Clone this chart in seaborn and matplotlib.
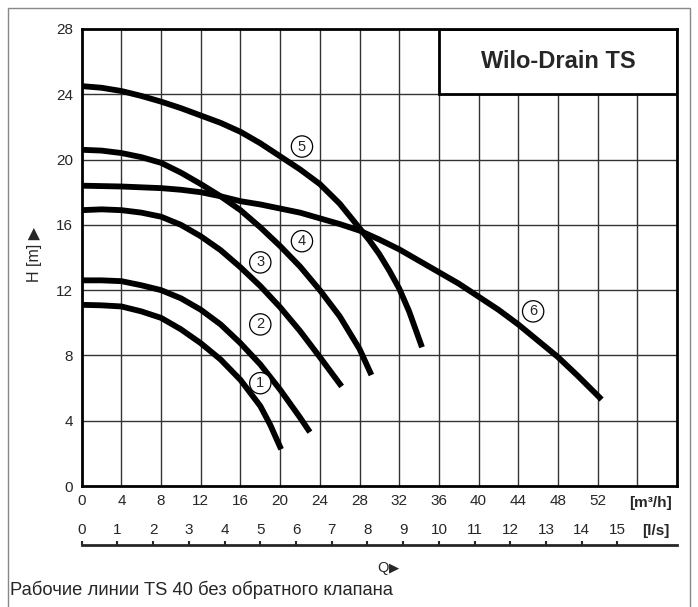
import pandas as pd
import seaborn as sns
import matplotlib.pyplot as plt
from matplotlib.patches import Rectangle

# pump curves, Q in m3/h, H in m
q1 = [0, 2, 4, 6, 8, 10, 12, 14, 16, 18, 19, 20.1]
h1 = [11.1, 11.07, 11.0, 10.7, 10.3, 9.6, 8.75, 7.75, 6.5, 4.9, 3.75, 2.25]
q2 = [0, 2, 4, 6, 8, 10, 12, 14, 16, 18, 20, 22, 23.0]
h2 = [12.6, 12.6, 12.55, 12.3, 12.0, 11.5, 10.8, 9.9, 8.75, 7.45, 5.9, 4.2, 3.3]
q3 = [0, 2, 4, 6, 8, 10, 12, 14, 16, 18, 20, 22, 24, 26.2]
h3 = [16.9, 16.95, 16.9, 16.75, 16.5, 16.0, 15.3, 14.45, 13.4, 12.25, 10.95, 9.5, 7.9, 6.1]
q4 = [0, 2, 4, 6, 8, 10, 12, 14, 16, 18, 20, 22, 24, 26, 28, 29.2]
h4 = [20.6, 20.55, 20.4, 20.15, 19.8, 19.2, 18.5, 17.75, 16.9, 15.85, 14.7, 13.45, 12.0, 10.4, 8.4, 6.8]
q5 = [0, 2, 4, 6, 8, 10, 12, 14, 16, 18, 20, 22, 24, 26, 28, 29, 30, 31, 32, 33, 34.3]
h5 = [24.5, 24.4, 24.2, 23.9, 23.55, 23.15, 22.7, 22.25, 21.7, 21.0, 20.2, 19.4, 18.5, 17.3,
      15.8, 15.05, 14.2, 13.2, 12.1, 10.7, 8.5]
q6 = [0, 4, 8, 10, 12, 14, 16, 18, 20, 22, 24, 26, 28, 30, 32, 34, 36, 38, 40, 42, 44, 46,
      48, 50, 52.4]
h6 = [18.4, 18.35, 18.25, 18.15, 18.0, 17.75, 17.45, 17.25, 17.0, 16.75, 16.4, 16.05, 15.65,
      15.1, 14.5, 13.8, 13.1, 12.4, 11.6, 10.8, 9.9, 8.9, 7.9, 6.75, 5.3]

curve_names = ['1', '2', '3', '4', '5', '6']
label_q = [18.0, 18.0, 18.0, 22.2, 22.2, 45.5]
label_h = [6.3, 9.9, 13.7, 15.0, 20.8, 10.7]

x_ticks = [0, 4, 8, 12, 16, 20, 24, 28, 32, 36, 40, 44, 48, 52]
y_ticks = [0, 4, 8, 12, 16, 20, 24, 28]
ls_ticks = list(range(16))

frames = []
for name, q, h in zip(curve_names, [q1, q2, q3, q4, q5, q6], [h1, h2, h3, h4, h5, h6]):
    frames.append(pd.DataFrame({'Q': q, 'H': h, 'curve': name}))
data = pd.concat(frames, ignore_index=True)

sns.set_style('white')
plt.rcParams['font.family'] = ['Liberation Sans', 'DejaVu Sans']

fig = plt.figure(figsize=(6.98, 6.07), dpi=100)
W, Hh = 698, 607
left, right, top, bottom = 81.7, 677, 29, 486
ax = fig.add_axes([left / W, 1 - bottom / Hh, (right - left) / W, (bottom - top) / Hh])

# outer frame
fig.patches.append(Rectangle((8 / W, -0.02), (690 - 8) / W, 1.02 - 8 / Hh,
                             transform=fig.transFigure, fill=False,
                             edgecolor='#888888', linewidth=1))

ax.set_xlim(0, 60)
ax.set_ylim(0, 28)
for xv in range(4, 60, 4):
    ax.axvline(xv, color='#333333', linewidth=1, zorder=1)
for yv in range(4, 28, 4):
    ax.axhline(yv, color='#333333', linewidth=1, zorder=1)

sns.lineplot(data=data, x='Q', y='H', units='curve', estimator=None, sort=False,
             color='black', linewidth=4.2, ax=ax, zorder=3)
for line in ax.get_lines():
    line.set_solid_capstyle('butt')
    line.set_solid_joinstyle('round')

for name, xq, yh in zip(curve_names, label_q, label_h):
    ax.text(xq, yh, name, ha='center', va='center', fontsize=10.5, zorder=5,
            bbox=dict(boxstyle='circle,pad=0.25', fc='white', ec='black', lw=0.9))

# title box
ax.add_patch(Rectangle((36, 24), 24, 4, facecolor='white', edgecolor='black',
                       linewidth=2, zorder=4))
ax.text(48, 26, 'Wilo-Drain TS', ha='center', va='center', fontsize=17,
        fontweight='bold', zorder=5)

for s in ax.spines.values():
    s.set_linewidth(2)
    s.set_color('black')
    s.set_zorder(6)

ax.set_xticks(x_ticks)
ax.set_yticks(y_ticks)
ax.tick_params(length=0, labelsize=11, pad=6)
ax.set_xlabel('')
ax.set_ylabel('')
ax.text(57.3, -1.05, '[m³/h]', ha='center', va='center', fontsize=11,
        fontweight='bold', clip_on=False)

fig.text(35 / W, 1 - 255 / Hh, 'H [m] ▶', rotation=90, ha='center', va='center',
         fontsize=11.5)

# l/s scale
ax2 = fig.add_axes([left / W, 1 - 545 / Hh, (right - left) / W, 0.0001])
ax2.set_xlim(0, 60 / 3.6)
ax2.set_ylim(0, 1)
for k in ['left', 'right', 'bottom']:
    ax2.spines[k].set_visible(False)
ax2.spines['top'].set_linewidth(2)
ax2.xaxis.tick_top()
ax2.set_xticks(ls_ticks)
ax2.set_yticks([])
ax2.tick_params(axis='x', direction='out', length=3, width=1.5, labelsize=11, pad=3)
fig.text(656 / W, 1 - 531 / Hh, '[l/s]', ha='center', va='center', fontsize=11,
         fontweight='bold')

fig.text(383 / W, 1 - 568 / Hh, 'Q', ha='center', va='center', fontsize=10.5)
fig.text(394 / W, 1 - 568 / Hh, '▶', ha='center', va='center', fontsize=9.5)
fig.text(10 / W, 1 - 590 / Hh, 'Рабочие линии TS 40 без обратного клапана',
         ha='left', va='center', fontsize=13.2)

fig.savefig('out.png', dpi=100)
